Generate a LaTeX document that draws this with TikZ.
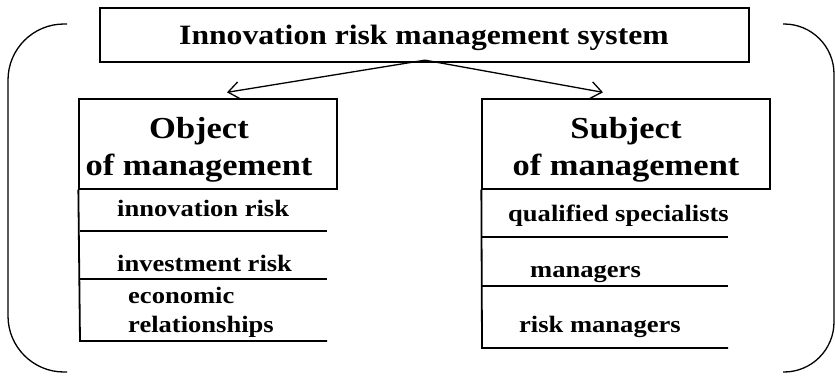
\documentclass[tikz,border=0pt]{standalone}
\usepackage{fontspec}
\setmainfont{Liberation Serif}[FakeStretch=1.13]
\usetikzlibrary{arrows.meta,calc}
\begin{document}
\begin{tikzpicture}[x=1pt,y=-1pt,
  box/.style={draw,line width=1.3pt,rectangle,inner sep=0pt},
  ttl/.style={font=\fontsize{28}{30}\selectfont\bfseries},
  hdr/.style={font=\fontsize{30.5}{37}\selectfont\bfseries,align=center},
  item/.style={font=\fontsize{23.5}{29}\selectfont\bfseries,anchor=base west,inner sep=0pt,align=left},
  lst/.style={line width=1.8pt},
  brk/.style={line width=1.3pt},
  arr/.style={line width=1.3pt,-{Straight Barb[length=11pt,width=17pt,line width=1.3pt]}}]
\useasboundingbox (0,0) rectangle (835,378);
% brackets
\draw[brk,rounded corners=56] (67,24) -- (8,24) -- (8,372) -- (67,372);
\draw[brk,rounded corners=50] (783,24) -- (834,24) -- (834,372) -- (783,372);
% top box
\node[box,minimum width=649pt,minimum height=54pt] (sys) at (424.5,35) {};
\node[ttl,anchor=base,inner sep=0pt] (syst) at (424,44) {Innovation risk management system};
% object / subject boxes
\node[box,minimum width=258pt,minimum height=90pt] (obj) at (208,144) {};
\node[box,minimum width=288pt,minimum height=90pt] (sub) at (626,144) {};
\node[hdr,anchor=base,inner sep=0pt] (objt) at (199,175) {Object\\of management};
\node[hdr,anchor=base,inner sep=0pt] (subt) at (626,175) {Subject\\of management};
% arrows
\coordinate (apex) at ($(sys.south)+(0.5,-2.5)$);
\draw[arr] (apex) -- ($(obj.north)+(19,-6)$);
\draw[arr] (apex) -- ($(sub.north)+(-23,-6)$);
% object list
\draw[lst] (obj.south west) -- (80,341) -- (327,341);
\draw[lst] (80,231) -- (327,231);
\draw[lst] (80,279) -- (327,279);
\node[item] (o1) at (117,216) {innovation risk};
\node[item] (o2) at (117,271) {investment risk};
\node[item] (o3) at (128,332) {economic\\relationships};
% subject list
\draw[lst] (sub.south west) -- (482,348) -- (728,348);
\draw[lst] (482,237) -- (728,237);
\draw[lst] (482,286) -- (728,286);
\node[item] (s1) at (508,221) {qualified specialists};
\node[item] (s2) at (530,277) {managers};
\node[item] (s3) at (519,332) {risk managers};
\end{tikzpicture}
\end{document}
